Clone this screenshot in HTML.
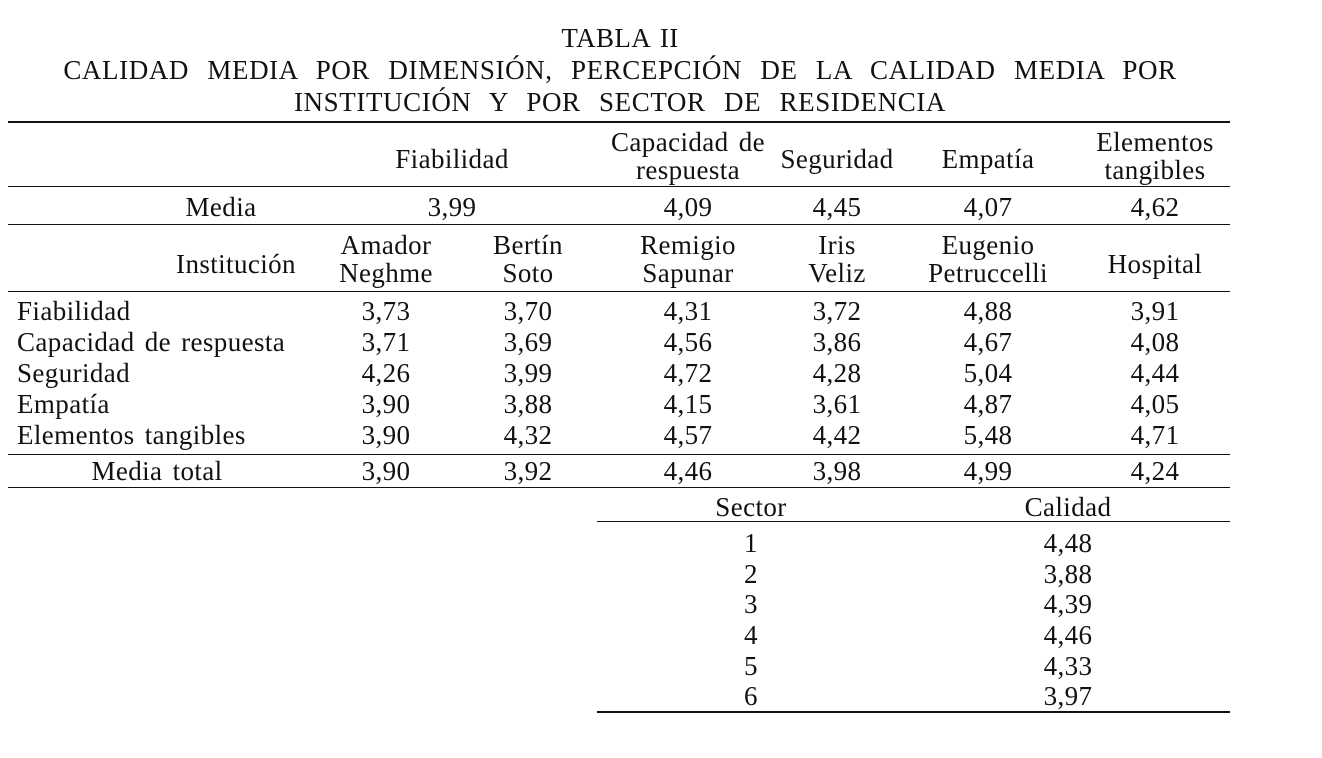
<!DOCTYPE html>
<html><head><meta charset="utf-8"><style>
body{margin:0;width:1322px;height:758px;background:#fff;position:relative;overflow:hidden;font-family:"Liberation Serif",serif;font-size:27px;color:#111;letter-spacing:0.4px;word-spacing:3px}
.t{position:absolute;width:400px;text-align:center;line-height:30px;white-space:nowrap}
.l{position:absolute;line-height:30px;white-space:nowrap}
.h{position:absolute;background:#111}
</style></head><body>
<div class="t" style="left:420px;top:23px">TABLA II</div>
<div class="t" style="left:-30px;top:55px;width:1300px;word-spacing:11px;letter-spacing:0.6px">CALIDAD MEDIA POR DIMENSIÓN, PERCEPCIÓN DE LA CALIDAD MEDIA POR</div>
<div class="t" style="left:-30px;top:87px;width:1300px;word-spacing:11px;letter-spacing:0.6px">INSTITUCIÓN Y POR SECTOR DE RESIDENCIA</div>
<div class="h" style="left:8px;top:121px;width:1222px;height:2px"></div>
<div class="h" style="left:8px;top:186px;width:1222px;height:1px"></div>
<div class="h" style="left:8px;top:224px;width:1222px;height:1px"></div>
<div class="h" style="left:8px;top:291px;width:1222px;height:1px"></div>
<div class="h" style="left:8px;top:454px;width:1222px;height:1px"></div>
<div class="h" style="left:8px;top:487px;width:1222px;height:1px"></div>
<div class="h" style="left:597px;top:521px;width:633px;height:1px"></div>
<div class="h" style="left:597px;top:711px;width:633px;height:2px"></div>

<div class="t" style="left:252px;top:144px">Fiabilidad</div>
<div class="t" style="left:488px;top:127px">Capacidad de</div>
<div class="t" style="left:488px;top:155px">respuesta</div>
<div class="t" style="left:637px;top:144px">Seguridad</div>
<div class="t" style="left:788px;top:144px">Empatía</div>
<div class="t" style="left:955px;top:127px">Elementos</div>
<div class="t" style="left:955px;top:155px">tangibles</div>

<div class="t" style="left:21px;top:192px">Media</div>
<div class="t" style="left:252px;top:192px">3,99</div>
<div class="t" style="left:488px;top:192px">4,09</div>
<div class="t" style="left:637px;top:192px">4,45</div>
<div class="t" style="left:788px;top:192px">4,07</div>
<div class="t" style="left:955px;top:192px">4,62</div>

<div class="t" style="left:36px;top:249px">Institución</div>
<div class="t" style="left:186px;top:230px">Amador</div><div class="t" style="left:186px;top:258px">Neghme</div>
<div class="t" style="left:328px;top:230px">Bertín</div><div class="t" style="left:328px;top:258px">Soto</div>
<div class="t" style="left:488px;top:230px">Remigio</div><div class="t" style="left:488px;top:258px">Sapunar</div>
<div class="t" style="left:637px;top:230px">Iris</div><div class="t" style="left:637px;top:258px">Veliz</div>
<div class="t" style="left:788px;top:230px">Eugenio</div><div class="t" style="left:788px;top:258px">Petruccelli</div>
<div class="t" style="left:955px;top:249px">Hospital</div>

<div class="l" style="left:17px;top:296px">Fiabilidad</div>
<div class="l" style="left:17px;top:327px">Capacidad de respuesta</div>
<div class="l" style="left:17px;top:358px">Seguridad</div>
<div class="l" style="left:17px;top:389px">Empatía</div>
<div class="l" style="left:17px;top:420px">Elementos tangibles</div>

<div class="t" style="left:186px;top:296px">3,73</div><div class="t" style="left:328px;top:296px">3,70</div><div class="t" style="left:488px;top:296px">4,31</div><div class="t" style="left:637px;top:296px">3,72</div><div class="t" style="left:788px;top:296px">4,88</div><div class="t" style="left:955px;top:296px">3,91</div>
<div class="t" style="left:186px;top:327px">3,71</div><div class="t" style="left:328px;top:327px">3,69</div><div class="t" style="left:488px;top:327px">4,56</div><div class="t" style="left:637px;top:327px">3,86</div><div class="t" style="left:788px;top:327px">4,67</div><div class="t" style="left:955px;top:327px">4,08</div>
<div class="t" style="left:186px;top:358px">4,26</div><div class="t" style="left:328px;top:358px">3,99</div><div class="t" style="left:488px;top:358px">4,72</div><div class="t" style="left:637px;top:358px">4,28</div><div class="t" style="left:788px;top:358px">5,04</div><div class="t" style="left:955px;top:358px">4,44</div>
<div class="t" style="left:186px;top:389px">3,90</div><div class="t" style="left:328px;top:389px">3,88</div><div class="t" style="left:488px;top:389px">4,15</div><div class="t" style="left:637px;top:389px">3,61</div><div class="t" style="left:788px;top:389px">4,87</div><div class="t" style="left:955px;top:389px">4,05</div>
<div class="t" style="left:186px;top:420px">3,90</div><div class="t" style="left:328px;top:420px">4,32</div><div class="t" style="left:488px;top:420px">4,57</div><div class="t" style="left:637px;top:420px">4,42</div><div class="t" style="left:788px;top:420px">5,48</div><div class="t" style="left:955px;top:420px">4,71</div>

<div class="t" style="left:-43px;top:456px">Media total</div>
<div class="t" style="left:186px;top:456px">3,90</div><div class="t" style="left:328px;top:456px">3,92</div><div class="t" style="left:488px;top:456px">4,46</div><div class="t" style="left:637px;top:456px">3,98</div><div class="t" style="left:788px;top:456px">4,99</div><div class="t" style="left:955px;top:456px">4,24</div>

<div class="t" style="left:551px;top:492px">Sector</div>
<div class="t" style="left:868px;top:492px">Calidad</div>
<div class="t" style="left:551px;top:528px">1</div><div class="t" style="left:868px;top:528px">4,48</div>
<div class="t" style="left:551px;top:559px">2</div><div class="t" style="left:868px;top:559px">3,88</div>
<div class="t" style="left:551px;top:589px">3</div><div class="t" style="left:868px;top:589px">4,39</div>
<div class="t" style="left:551px;top:620px">4</div><div class="t" style="left:868px;top:620px">4,46</div>
<div class="t" style="left:551px;top:651px">5</div><div class="t" style="left:868px;top:651px">4,33</div>
<div class="t" style="left:551px;top:681px">6</div><div class="t" style="left:868px;top:681px">3,97</div>
</body></html>
